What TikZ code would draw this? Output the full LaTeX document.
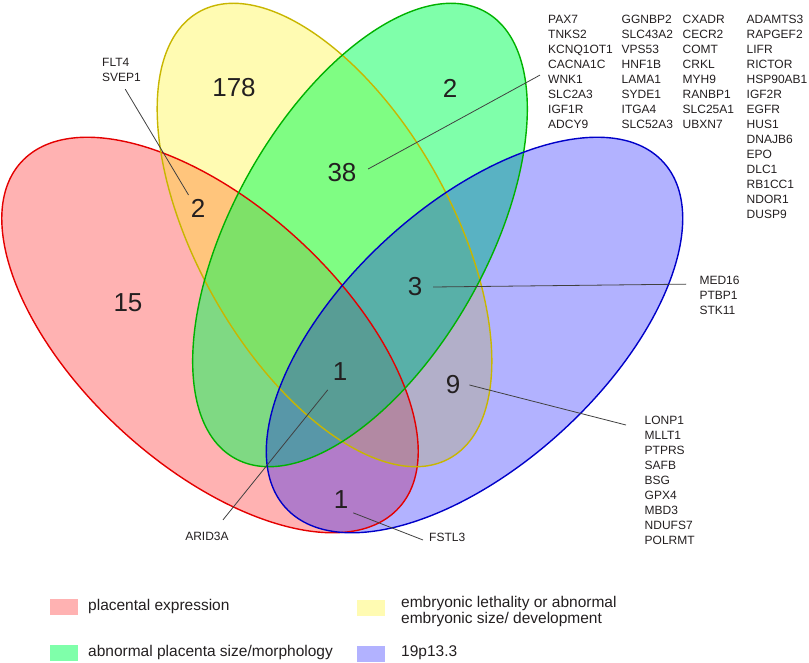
\documentclass[tikz,border=0pt]{standalone}
\usepackage{fontspec}
\setmainfont{Liberation Sans}
\definecolor{redline}{RGB}{228,0,0}
\definecolor{yellowline}{RGB}{200,182,0}
\definecolor{greenline}{RGB}{0,178,0}
\definecolor{blueline}{RGB}{0,0,200}
\definecolor{greenbase}{RGB}{0,255,85}
\definecolor{txt}{RGB}{35,31,32}
\tikzset{%
  fillR/.style={fill=red, fill opacity=.3},
  fillY/.style={fill=yellow, fill opacity=.3},
  fillG/.style={fill=greenbase, fill opacity=.5},
  fillB/.style={fill=blue, fill opacity=.3},
  rim/.style={line width=1.4pt},
  num/.style={inner sep=0pt, text=txt, font=\fontsize{26}{30}\selectfont},
  genes/.style={inner sep=0pt, align=left, text=txt, font=\fontsize{12}{15}\selectfont},
  leader/.style={draw=black!75, line width=.8pt},
  key/.style={minimum width=28pt, minimum height=16pt, inner sep=0pt},
  keytext/.style={inner sep=0pt, align=left, text=txt, font=\fontsize{15.5}{16}\selectfont}
}

\begin{document}
\begin{tikzpicture}[x=1pt,y=-1pt]
\useasboundingbox (0,0) rectangle (809,663);
% set fills first, outlines on top
\fill[fillR, rotate around={-42.5:(210,335)}] (210,335) ellipse [x radius=256pt, y radius=130pt];
\fill[fillY, rotate around={-60.65:(324.5,235)}] (324.5,235) ellipse [x radius=256pt, y radius=127pt];
\fill[fillG, rotate around={60.65:(360,235)}] (360,235) ellipse [x radius=256pt, y radius=127pt];
\fill[fillB, rotate around={42.5:(474.5,335)}] (474.5,335) ellipse [x radius=256pt, y radius=130pt];
\draw[rim, redline, rotate around={-42.5:(210,335)}] (210,335) ellipse [x radius=256pt, y radius=130pt];
\draw[rim, yellowline, rotate around={-60.65:(324.5,235)}] (324.5,235) ellipse [x radius=256pt, y radius=127pt];
\draw[rim, greenline, rotate around={60.65:(360,235)}] (360,235) ellipse [x radius=256pt, y radius=127pt];
\draw[rim, blueline, rotate around={42.5:(474.5,335)}] (474.5,335) ellipse [x radius=256pt, y radius=130pt];

% counts
\node[num] (n178) at (234,88) {178};
\node[num] (n2g) at (450,88) {2};
\node[num] (n38) at (342,173) {38};
\node[num] (n2ry) at (198,208) {2};
\node[num] (n15) at (128,303) {15};
\node[num] (n3) at (415,287) {3};
\node[num] (n1c) at (340,372) {1};
\node[num] (n9) at (453,385) {9};
\node[num] (n1b) at (341,500) {1};

% gene lists
\node[genes, anchor=north west] (c1) at (548,14.7) {PAX7\\TNKS2\\KCNQ1OT1\\CACNA1C\\WNK1\\SLC2A3\\IGF1R\\ADCY9};
\node[genes, anchor=north west] (c2) at (621.5,14.7) {GGNBP2\\SLC43A2\\VPS53\\HNF1B\\LAMA1\\SYDE1\\ITGA4\\SLC52A3};
\node[genes, anchor=north west] (c3) at (682.5,14.7) {CXADR\\CECR2\\COMT\\CRKL\\MYH9\\RANBP1\\SLC25A1\\UBXN7};
\node[genes, anchor=north west] (c4) at (746.5,14.7) {ADAMTS3\\RAPGEF2\\LIFR\\RICTOR\\HSP90AB1\\IGF2R\\EGFR\\HUS1\\DNAJB6\\EPO\\DLC1\\RB1CC1\\NDOR1\\DUSP9};
\node[genes, anchor=north west] (m3) at (699.3,275.7) {MED16\\PTBP1\\STK11};
\node[genes, anchor=north west] (m9) at (644.5,415.7) {LONP1\\MLLT1\\PTPRS\\SAFB\\BSG\\GPX4\\MBD3\\NDUFS7\\POLRMT};
\node[genes, anchor=north west] (m2) at (102,57.7) {FLT4\\SVEP1};
\node[genes] (m1c) at (207,536) {ARID3A};
\node[genes, anchor=west] (m1b) at (429,537) {FSTL3};

\draw[leader] ([xshift=11.5pt,yshift=4pt]n38.east) -- ([xshift=-8pt,yshift=-3.5pt]c1.west);
\draw[leader] ([xshift=10.8pt]n3.east) -- ([xshift=-13.3pt,yshift=11pt]m3.west);
\draw[leader] ([xshift=9pt]n9.east) -- ([xshift=-18.5pt,yshift=-9.3pt]m9.north west);
\draw[leader] ([xshift=-2pt,yshift=3.7pt]n2ry.north west) -- ([xshift=3.7pt,yshift=-7.7pt]m2.south);
\draw[leader] ([xshift=-4.8pt,yshift=-8.7pt]n1c.south west) -- ([xshift=16pt,yshift=11.7pt]m1c.north);
\draw[leader] ([xshift=4.8pt,yshift=-3.7pt]n1b.south east) -- ([xshift=-6pt,yshift=-3pt]m1b.west);

% legend
\node[key, fillR] (kR) at (64,607) {};
\node[keytext, anchor=base west] (tR) at (88,610) {placental expression};
\node[key, fillY] (kY) at (370.5,607.5) {};
\node[keytext, anchor=north west] (tY) at (401,596) {embryonic lethality or abnormal\\embryonic size/ development};
\node[key, fillG] (kG) at (64,653) {};
\node[keytext, anchor=base west] (tG) at (88,656) {abnormal placenta size/morphology};
\node[key, fillB] (kB) at (370.5,653.5) {};
\node[keytext, anchor=base west] (tB) at (401,656) {19p13.3};
\end{tikzpicture}
\end{document}
